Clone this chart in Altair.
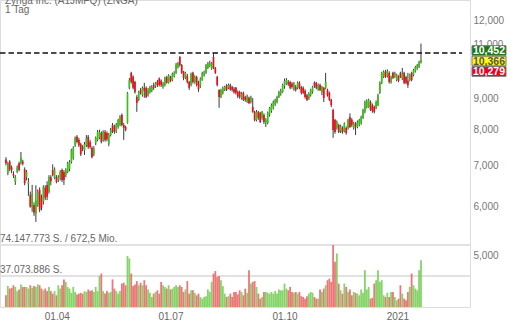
import altair as alt
import pandas as pd

# ---------------- data ----------------
opens = [7.16, 6.80, 7.10, 6.95, 6.78, 6.58, 6.83, 7.06, 7.06, 7.10, 6.90, 6.70, 6.52, 6.27, 6.00, 6.04, 5.85, 6.04, 6.39, 6.23,
         6.11, 6.44, 6.51, 6.34, 6.70, 6.88, 6.68, 6.70, 6.63, 6.68, 6.88, 6.83, 6.75, 6.83, 6.90, 7.09, 7.20, 7.55, 7.79, 7.70,
         7.58, 7.50, 7.40, 7.55, 7.79, 7.64, 7.47, 7.30, 7.61, 7.70, 7.76, 7.90, 7.70, 7.93, 7.90, 7.58, 7.84, 8.14, 8.10, 7.95,
         8.08, 8.14, 8.45, 8.14, 8.08, 8.20, 9.35, 9.89, 9.75, 9.56, 9.04, 8.94, 9.28, 9.10, 9.35, 9.35, 9.10, 9.21, 9.25, 9.45,
         9.40, 9.56, 9.68, 9.60, 9.40, 9.45, 9.74, 9.53, 9.74, 9.63, 9.76, 9.89, 10.10, 10.49, 10.18, 9.93, 9.71, 9.78, 9.56, 9.45,
         9.89, 9.56, 9.74, 9.50, 9.40, 9.63, 9.80, 9.89, 10.07, 10.15, 10.05, 10.49, 10.07, 9.74, 9.28, 9.04, 9.18, 9.28, 9.45, 9.35,
         9.45, 9.38, 9.32, 9.35, 9.21, 9.21, 9.00, 9.18, 9.04, 8.88, 9.01, 8.87, 8.71, 8.55, 8.29, 8.55, 8.52, 8.36, 8.45, 8.20,
         8.20, 8.45, 8.58, 8.68, 8.80, 8.87, 9.04, 9.15, 9.21, 9.40, 9.48, 9.56, 9.56, 9.50, 9.30, 9.38, 9.35, 9.53, 9.38, 9.35,
         9.25, 9.10, 8.98, 9.10, 9.21, 9.53, 9.53, 9.30, 9.45, 9.21, 9.35, 9.35, 9.28, 9.18, 8.94, 8.61, 8.29, 8.05, 8.14, 7.95,
         8.05, 7.95, 8.05, 8.05, 8.39, 8.30, 8.05, 8.18, 8.08, 8.14, 8.20, 8.36, 8.55, 8.70, 8.71, 8.87, 8.77, 8.71, 8.68, 8.77,
         9.18, 9.53, 9.74, 9.93, 9.78, 9.89, 9.56, 9.89, 9.74, 9.63, 9.76, 9.89, 9.68, 9.89, 9.74, 9.60, 9.63, 9.89, 9.81, 9.95,
         10.05, 10.11, 10.28]
highs = [7.22, 7.10, 7.14, 7.00, 6.85, 6.75, 7.00, 7.10, 7.36, 7.15, 6.95, 6.88, 6.68, 6.35, 6.51, 6.10, 6.50, 6.40, 6.45, 6.28,
         6.50, 6.50, 6.60, 6.75, 6.75, 7.03, 6.95, 6.75, 6.75, 6.88, 6.92, 6.88, 6.93, 7.10, 7.14, 7.45, 7.52, 7.80, 7.84, 7.76,
         7.62, 7.55, 7.64, 7.84, 7.84, 7.70, 7.52, 7.52, 7.80, 7.99, 8.00, 7.95, 7.98, 7.99, 7.95, 7.90, 8.05, 8.20, 8.15, 8.20,
         8.33, 8.45, 8.50, 8.20, 8.12, 9.21, 9.70, 9.93, 9.80, 9.60, 9.10, 9.25, 9.35, 9.40, 9.53, 9.40, 9.35, 9.42, 9.45, 9.53,
         9.56, 9.63, 9.72, 9.65, 9.56, 9.75, 9.78, 9.84, 9.78, 9.90, 9.95, 10.26, 10.30, 10.53, 10.22, 9.96, 9.93, 9.85, 9.60, 9.90,
         9.93, 9.80, 9.78, 9.60, 9.72, 9.93, 9.97, 10.22, 10.30, 10.35, 10.30, 10.65, 10.11, 9.78, 9.30, 9.32, 9.40, 9.42, 9.48, 9.50,
         9.50, 9.42, 9.38, 9.38, 9.26, 9.25, 9.20, 9.22, 9.08, 9.12, 9.05, 9.08, 9.00, 8.58, 8.61, 8.58, 8.55, 8.58, 8.50, 8.35,
         8.56, 8.71, 8.82, 8.92, 8.98, 9.08, 9.25, 9.32, 9.50, 9.68, 9.70, 9.63, 9.60, 9.55, 9.56, 9.45, 9.58, 9.58, 9.42, 9.40,
         9.30, 9.14, 9.20, 9.32, 9.42, 9.58, 9.56, 9.50, 9.50, 9.42, 9.38, 9.89, 9.32, 9.22, 8.98, 8.65, 8.33, 8.28, 8.18, 8.15,
         8.10, 8.22, 8.10, 8.33, 8.50, 8.35, 8.24, 8.23, 8.28, 8.33, 8.43, 8.65, 8.92, 8.96, 8.98, 8.92, 8.82, 8.75, 8.92, 9.15,
         9.58, 9.93, 9.98, 10.00, 10.02, 9.95, 9.78, 9.93, 9.93, 9.86, 9.80, 9.93, 10.07, 9.93, 9.78, 9.89, 9.86, 9.93, 10.04, 10.15,
         10.22, 10.35, 11.03]
lows = [7.00, 6.75, 6.85, 6.80, 6.68, 6.51, 6.80, 6.85, 7.02, 7.00, 6.50, 6.62, 6.25, 5.98, 5.89, 5.80, 5.67, 6.00, 5.88, 5.92,
        6.05, 6.15, 6.15, 6.30, 6.50, 6.72, 6.65, 6.55, 6.58, 6.62, 6.58, 6.51, 6.70, 6.80, 6.85, 7.05, 7.15, 7.50, 7.60, 7.50,
        7.25, 7.38, 7.28, 7.50, 7.45, 7.45, 7.19, 7.25, 7.55, 7.66, 7.72, 7.60, 7.65, 7.65, 7.66, 7.52, 7.80, 7.90, 7.88, 7.90,
        8.03, 8.10, 8.10, 7.70, 7.95, 8.18, 9.30, 9.50, 9.30, 9.15, 8.55, 8.90, 9.12, 9.05, 9.01, 9.00, 9.05, 9.15, 9.20, 9.28,
        9.35, 9.38, 9.40, 9.38, 9.32, 9.40, 9.50, 9.50, 9.55, 9.58, 9.72, 9.85, 10.05, 10.12, 9.85, 9.62, 9.66, 9.50, 9.28, 9.40,
        9.50, 9.50, 9.40, 9.21, 9.35, 9.60, 9.75, 9.85, 10.03, 10.10, 10.00, 10.03, 9.85, 9.40, 8.68, 9.00, 9.12, 9.24, 9.24, 9.30,
        9.25, 9.22, 9.15, 9.12, 9.00, 8.98, 8.95, 8.90, 8.88, 8.84, 8.80, 8.82, 8.52, 8.25, 8.25, 8.30, 8.20, 8.30, 8.17, 8.08,
        8.16, 8.40, 8.52, 8.63, 8.74, 8.82, 9.00, 9.08, 9.18, 9.32, 9.45, 9.42, 9.30, 9.32, 9.25, 9.22, 9.30, 9.30, 9.12, 9.14,
        8.98, 8.90, 8.94, 9.05, 9.15, 9.35, 9.30, 9.25, 9.24, 9.10, 8.87, 9.30, 9.05, 8.90, 8.70, 7.76, 7.88, 8.00, 7.90, 7.90,
        7.88, 7.92, 7.85, 8.00, 8.05, 8.08, 8.00, 7.84, 8.04, 8.10, 8.15, 8.32, 8.50, 8.66, 8.68, 8.58, 8.52, 8.50, 8.64, 8.73,
        9.14, 9.48, 9.70, 9.70, 9.72, 9.50, 9.50, 9.66, 9.70, 9.58, 9.55, 9.70, 9.63, 9.48, 9.48, 9.35, 9.58, 9.58, 9.76, 9.90,
        10.00, 10.07, 10.24]
closes = [7.06, 7.06, 6.90, 6.88, 6.74, 6.70, 6.95, 6.88, 7.22, 7.05, 6.55, 6.83, 6.58, 6.00, 6.30, 5.87, 6.15, 6.34, 5.93, 5.98,
          6.46, 6.20, 6.23, 6.70, 6.60, 6.75, 6.90, 6.58, 6.70, 6.83, 6.63, 6.63, 6.88, 7.06, 7.09, 7.42, 7.47, 7.76, 7.64, 7.55,
          7.30, 7.45, 7.58, 7.75, 7.50, 7.50, 7.22, 7.45, 7.76, 7.93, 7.93, 7.64, 7.93, 7.70, 7.72, 7.84, 7.99, 7.93, 7.95, 8.15,
          8.29, 8.39, 8.14, 8.05, 7.99, 9.18, 9.63, 9.56, 9.35, 9.21, 8.84, 9.21, 9.18, 9.35, 9.25, 9.04, 9.28, 9.38, 9.38, 9.35,
          9.53, 9.45, 9.45, 9.45, 9.50, 9.71, 9.53, 9.80, 9.60, 9.85, 9.89, 10.20, 10.26, 10.18, 9.89, 9.71, 9.89, 9.56, 9.35, 9.85,
          9.56, 9.74, 9.45, 9.30, 9.68, 9.89, 9.90, 10.18, 10.26, 10.26, 10.26, 10.07, 9.89, 9.45, 9.04, 9.28, 9.35, 9.38, 9.28, 9.45,
          9.30, 9.28, 9.20, 9.18, 9.06, 9.04, 9.15, 8.94, 8.94, 9.06, 8.84, 9.04, 8.55, 8.29, 8.55, 8.36, 8.23, 8.55, 8.23, 8.30,
          8.52, 8.68, 8.77, 8.87, 8.94, 9.04, 9.21, 9.25, 9.45, 9.60, 9.63, 9.48, 9.35, 9.38, 9.50, 9.28, 9.53, 9.35, 9.18, 9.18,
          9.04, 8.94, 9.15, 9.28, 9.38, 9.42, 9.35, 9.45, 9.28, 9.38, 9.00, 9.56, 9.10, 8.94, 8.77, 7.99, 7.93, 8.23, 7.93, 8.10,
          7.93, 8.18, 7.90, 8.29, 8.08, 8.14, 8.20, 8.10, 8.23, 8.29, 8.39, 8.61, 8.87, 8.90, 8.94, 8.61, 8.58, 8.55, 8.87, 9.10,
          9.53, 9.89, 9.93, 9.74, 9.95, 9.56, 9.74, 9.71, 9.89, 9.81, 9.60, 9.74, 9.85, 9.53, 9.53, 9.45, 9.81, 9.63, 10.00, 10.11,
          10.18, 10.30, 10.37]
# daily volume, millions of shares
volumes = [14, 25, 22, 23, 26, 24, 19, 21, 27, 24, 24, 24, 22, 26, 23, 25, 24, 27, 26, 22,
           20, 22, 19, 24, 19, 16, 19, 14, 26, 22, 26, 33, 30, 24, 22, 17, 24, 18, 15, 16,
           17, 16, 19, 18, 21, 19, 20, 18, 24, 19, 37, 40, 19, 16, 19, 17, 18, 33, 22, 19,
           16, 19, 28, 29, 26, 61, 58, 40, 25, 27, 31, 26, 29, 26, 32, 26, 21, 17, 12, 16,
           18, 20, 16, 30, 26, 24, 22, 26, 21, 22, 24, 26, 24, 26, 24, 18, 21, 31, 16, 20,
           20, 17, 14, 16, 12, 10, 12, 13, 21, 18, 30, 40, 43, 36, 37, 32, 25, 16, 12, 13,
           16, 12, 18, 18, 15, 20, 18, 14, 22, 17, 44, 28, 30, 31, 24, 16, 10, 12, 18, 18,
           17, 16, 18, 16, 19, 16, 21, 20, 20, 28, 22, 20, 24, 18, 17, 18, 16, 18, 13, 12,
           10, 13, 16, 18, 17, 12, 10, 10, 21, 18, 22, 26, 32, 34, 30, 74.147773, 54, 64, 28, 20,
           16, 28, 24, 18, 21, 14, 18, 17, 16, 14, 21, 17, 44, 21, 24, 10, 11, 28, 32, 44,
           30, 32, 14, 12, 17, 12, 18, 18, 12, 8, 10, 26, 16, 10, 8, 18, 24, 40, 26, 22,
           20, 44, 56]

tick_pos = [27.2, 88.0, 149.0, 209.4]
tick_labels = ["01.04", "01.07", "01.10", "2021"]
price_ticks = [5, 6, 7, 8, 9, 10, 11, 12, 13]

title_text = "Zynga Inc. (A1JMFQ) (ZNGA)"
period_text = "1 Tag"
resistance = 10.65
vol_max = 74.147773
vol_half = 37.073886
vol_max_label = "74.147.773 S. / 672,5 Mio."
vol_half_label = "37.073.886 S."
quote_values = [10.452, 10.366, 10.279]
quote_labels = ["10,452", "10,366", "10,279"]

# ---------------- chart ----------------
df = pd.DataFrame({
    "idx": list(range(len(closes))),
    "open": opens, "high": highs, "low": lows, "close": closes, "volume": volumes,
})

FONT = "Liberation Sans"
GREEN = "#3cbf17"
RED = "#e8111b"
W, H = 470, 307

label_expr = " : ".join(
    f"abs(datum.value - {p}) < 0.5 ? '{t}'" for p, t in zip(tick_pos, tick_labels)
) + " : ''"

xscale = alt.Scale(domain=[-1 / 1.91, (W - 1) / 1.91], nice=False, zero=False)
X = alt.X("idx:Q", scale=xscale,
          axis=alt.Axis(values=tick_pos, labelExpr=label_expr, ticks=False, domain=False,
                        grid=False, labelFontSize=10, labelColor="#666", labelFont=FONT,
                        labelPadding=4, labelFlush=False, title=None))

pscale = alt.Scale(type="log", domain=[4.1278, 12.978], nice=False, zero=False)
paxis = alt.Axis(orient="right", values=price_ticks,
                 labelExpr="replace(format(datum.value, '.3f'), '.', ',')",
                 ticks=False, domain=False, grid=False, labelAlign="left", labelPadding=3,
                 labelFontSize=10, labelColor="#777", labelFont=FONT, labelOverlap=False,
                 labelFlush=False, title=None)

vscale = alt.Scale(domain=[0, vol_max / ((H - 245) / H)], nice=False)

updown = alt.condition("datum.close >= datum.open", alt.value(GREEN), alt.value(RED))
updown_v = alt.condition("datum.close >= datum.open", alt.value("#6fcd4c"), alt.value("#e75f5f"))

base = alt.Chart(df)

wicks = base.mark_rule(color="#3a3a3a", strokeWidth=1).encode(
    x=X, y=alt.Y("high:Q", scale=pscale, axis=paxis), y2="low:Q")
bodies = base.mark_bar(size=1.7).encode(
    x=X, y=alt.Y("open:Q", scale=pscale, axis=paxis), y2="close:Q", color=updown)
dashed = alt.Chart(pd.DataFrame({"v": [resistance]})).mark_rule(
    color="#111", strokeWidth=1.6, strokeDash=[5.5, 3]).encode(
    y=alt.Y("v:Q", scale=pscale, axis=paxis), x=alt.value(0), x2=alt.value(462))

box_layers = []
box_fill = ["#1b7512", "#ffff00", "#e8001c"]
box_text = ["white", "#555", "white"]
box_shift = [-7.5, 0.8, 9.0]
for v, lab, f, tc, s in zip(quote_values, quote_labels, box_fill, box_text, box_shift):
    d = alt.Chart(pd.DataFrame({"v": [v], "t": [lab]}))
    box_layers.append(d.mark_rect(fill=f, stroke="#777", strokeWidth=1,
                                  yOffset=s - 4.8, y2Offset=s + 4.8).encode(
        y=alt.Y("v:Q", scale=pscale, axis=paxis), y2="v:Q",
        x=alt.value(472), x2=alt.value(506)))
    box_layers.append(d.mark_text(color=tc, fontSize=10.5, fontWeight="bold", font=FONT,
                                  align="center", baseline="middle", dy=s + 0.5).encode(
        y=alt.Y("v:Q", scale=pscale, axis=paxis), x=alt.value(489), text="t:N"))

titles = alt.Chart(pd.DataFrame({"t": [title_text, period_text], "k": [0, 1]}))
title_mark = titles.transform_filter("datum.k == 0").mark_text(
    align="left", baseline="alphabetic", fontSize=10, color="#666", font=FONT).encode(
    x=alt.value(5), y=alt.value(3.5), text="t:N")
period_mark = titles.transform_filter("datum.k == 1").mark_text(
    align="left", baseline="alphabetic", fontSize=10, color="#666", font=FONT).encode(
    x=alt.value(5), y=alt.value(13), text="t:N")

price = alt.layer(wicks, bodies, dashed, *box_layers, title_mark, period_mark)

vbars = base.mark_bar(size=1.8, opacity=0.85).encode(
    x=X, y=alt.Y("volume:Q", scale=vscale, axis=None), color=updown_v)
vref = pd.DataFrame({"v": [vol_max, vol_half], "t": [vol_max_label, vol_half_label]})
vgrid = alt.Chart(vref).mark_rule(color="#e2e2e2", strokeWidth=2).encode(
    y=alt.Y("v:Q", scale=vscale, axis=None), x=alt.value(0), x2=alt.value(470))
vtext = alt.Chart(vref).mark_text(align="left", baseline="bottom", dy=-1.5, fontSize=10,
                                  color="#666", font=FONT).encode(
    y=alt.Y("v:Q", scale=vscale, axis=None), x=alt.value(0), text="t:N")

volume = alt.layer(vgrid, vbars, vtext)

chart = alt.layer(volume, price).resolve_scale(y="independent").properties(
    width=W, height=H,
    padding={"left": 0, "top": 0, "right": 510 - W, "bottom": 320 - H},
    autosize=alt.AutoSizeParams(type="none"),
).configure_view(stroke=None).configure(background="white")

chart.save("out.html", embed_options={"renderer": "svg", "actions": False})
